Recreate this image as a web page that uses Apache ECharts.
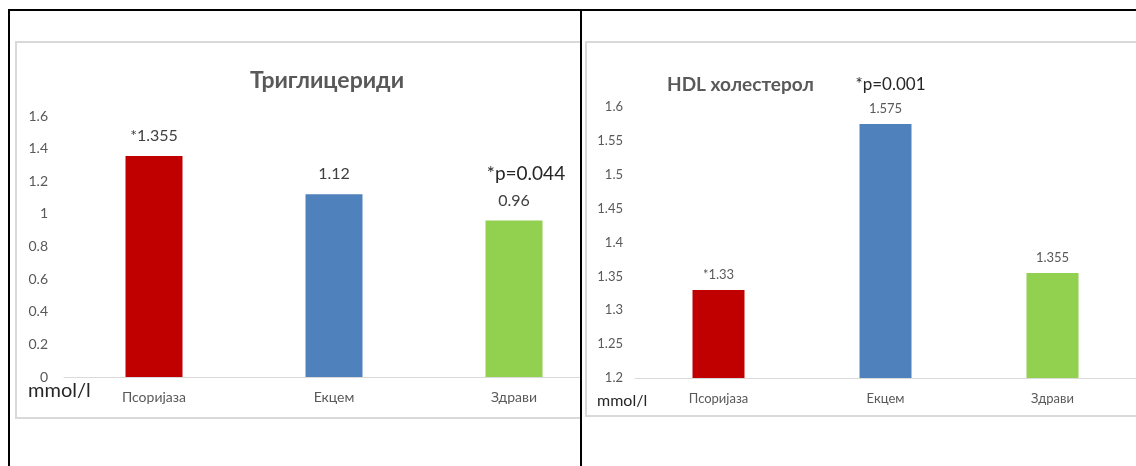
<!DOCTYPE html>
<html>
<head>
<meta charset="utf-8">
<script src="https://cdn.jsdelivr.net/npm/echarts@6/dist/echarts.min.js"></script>
<style>
  html, body { margin: 0; padding: 0; background: #fff; }
  body { width: 1136px; height: 466px; position: relative; overflow: hidden; }
  .frame {
    position: absolute;
    box-sizing: border-box;
    border: 2px solid #d9d9d9;
    background: #fff;
  }
  .chart { position: absolute; left: 0; top: 0; }
  .clip { position: absolute; overflow: hidden; }
  .line { position: absolute; background: #000; z-index: 5; }
</style>
</head>
<body>
  <div class="clip" style="left:0;top:0;width:580px;height:466px;">
    <div class="frame" style="left:15px;top:41px;width:624px;height:378px;">
      <div id="trig" class="chart" style="width:620px;height:374px;"></div>
    </div>
  </div>
  <div class="frame" style="left:585px;top:41px;width:600px;height:376px;">
    <div id="hdl" class="chart" style="width:596px;height:372px;"></div>
  </div>

  <div class="line" style="left:8px;top:9px;width:1128px;height:2px;"></div>
  <div class="line" style="left:8px;top:9px;width:2px;height:457px;"></div>
  <div class="line" style="left:580px;top:9px;width:2px;height:457px;"></div>

<script>
// categories and values
const categories = ['Псоријаза', 'Екцем', 'Здрави'];
const barColors = ['#C00000', '#4F81BD', '#92D050'];

const trigValues = [1.355, 1.12, 0.96];
const trigStars = ['*', '', ''];
const trigNotes = ['', '', '*p=0.044'];
const trigTicks = { min: 0, max: 1.6, interval: 0.2 };

const hdlValues = [1.33, 1.575, 1.355];
const hdlStars = ['*', '', ''];
const hdlNotes = ['', '*p=0.001', ''];
const hdlTicks = { min: 1.2, max: 1.6, interval: 0.05 };

const FONT = 'Lato, "Noto Sans", sans-serif';

function buildData(values, stars, notes) {
  return values.map(function (v, i) {
    return {
      value: v,
      itemStyle: { color: barColors[i] },
      label: {
        formatter: (notes[i] ? '{n|' + notes[i] + '}\n' : '') + '{v|' + stars[i] + v + '}'
      }
    };
  });
}

// Триглицериди
function drawTrig() {
  let chart = echarts.init(document.getElementById('trig'));
  chart.setOption({
    animation: false,
    textStyle: { fontFamily: FONT },
    title: {
      text: 'Триглицериди',
      left: 'center',
      top: 21,
      textStyle: { fontSize: 23, fontWeight: 'bold', color: '#595959', fontFamily: FONT }
    },
    grid: { left: 47, width: 540, top: 73, bottom: 40 },
    xAxis: {
      type: 'category',
      data: categories,
      axisLine: { lineStyle: { color: '#d9d9d9', width: 1 } },
      axisTick: { show: false },
      axisLabel: { color: '#595959', fontSize: 14, margin: 13, fontFamily: FONT }
    },
    yAxis: {
      type: 'value',
      min: trigTicks.min,
      max: trigTicks.max,
      interval: trigTicks.interval,
      splitLine: { show: false },
      axisLine: { show: false },
      axisTick: { show: false },
      axisLabel: { color: '#595959', fontSize: 14, margin: 16, fontFamily: FONT }
    },
    graphic: [{
      type: 'text',
      left: 11,
      top: 338,
      style: { text: 'mmol/l', fontSize: 20, fill: '#262626', fontFamily: FONT }
    }],
    series: [{
      type: 'bar',
      barWidth: 57,
      data: buildData(trigValues, trigStars, trigNotes),
      label: {
        show: true,
        position: 'top',
        distance: 7,
        rich: {
          v: { fontSize: 16, color: '#404040', fontFamily: FONT, lineHeight: 26 },
          n: { fontSize: 19, color: '#262626', fontFamily: FONT, lineHeight: 28, padding: [0, 0, 0, 24] }
        }
      }
    }]
  });
}

// HDL холестерол
function drawHdl() {
  let chart = echarts.init(document.getElementById('hdl'));
  chart.setOption({
    animation: false,
    textStyle: { fontFamily: FONT },
    title: {
      text: 'HDL холестерол',
      left: 75,
      top: 27,
      textStyle: { fontSize: 19, fontWeight: 'bold', color: '#595959', fontFamily: FONT }
    },
    grid: { left: 48, width: 501, top: 64, bottom: 37 },
    xAxis: {
      type: 'category',
      data: categories,
      axisLine: { lineStyle: { color: '#d9d9d9', width: 1 } },
      axisTick: { show: false },
      axisLabel: { color: '#595959', fontSize: 13, margin: 14, fontFamily: FONT }
    },
    yAxis: {
      type: 'value',
      min: hdlTicks.min,
      max: hdlTicks.max,
      interval: hdlTicks.interval,
      splitLine: { show: false },
      axisLine: { show: false },
      axisTick: { show: false },
      axisLabel: { color: '#595959', fontSize: 13, margin: 12, fontFamily: FONT }
    },
    graphic: [{
      type: 'text',
      left: 10,
      top: 350,
      style: { text: 'mmol/l', fontSize: 16, fill: '#262626', fontFamily: FONT }
    }],
    series: [{
      type: 'bar',
      barWidth: 52,
      data: buildData(hdlValues, hdlStars, hdlNotes),
      label: {
        show: true,
        position: 'top',
        distance: 5,
        rich: {
          v: { fontSize: 13, color: '#595959', fontFamily: FONT, lineHeight: 20 },
          n: { fontSize: 17, color: '#262626', fontFamily: FONT, lineHeight: 28, padding: [0, 0, 0, 10] }
        }
      }
    }]
  });
}

drawTrig();
drawHdl();
</script>
</body>
</html>
